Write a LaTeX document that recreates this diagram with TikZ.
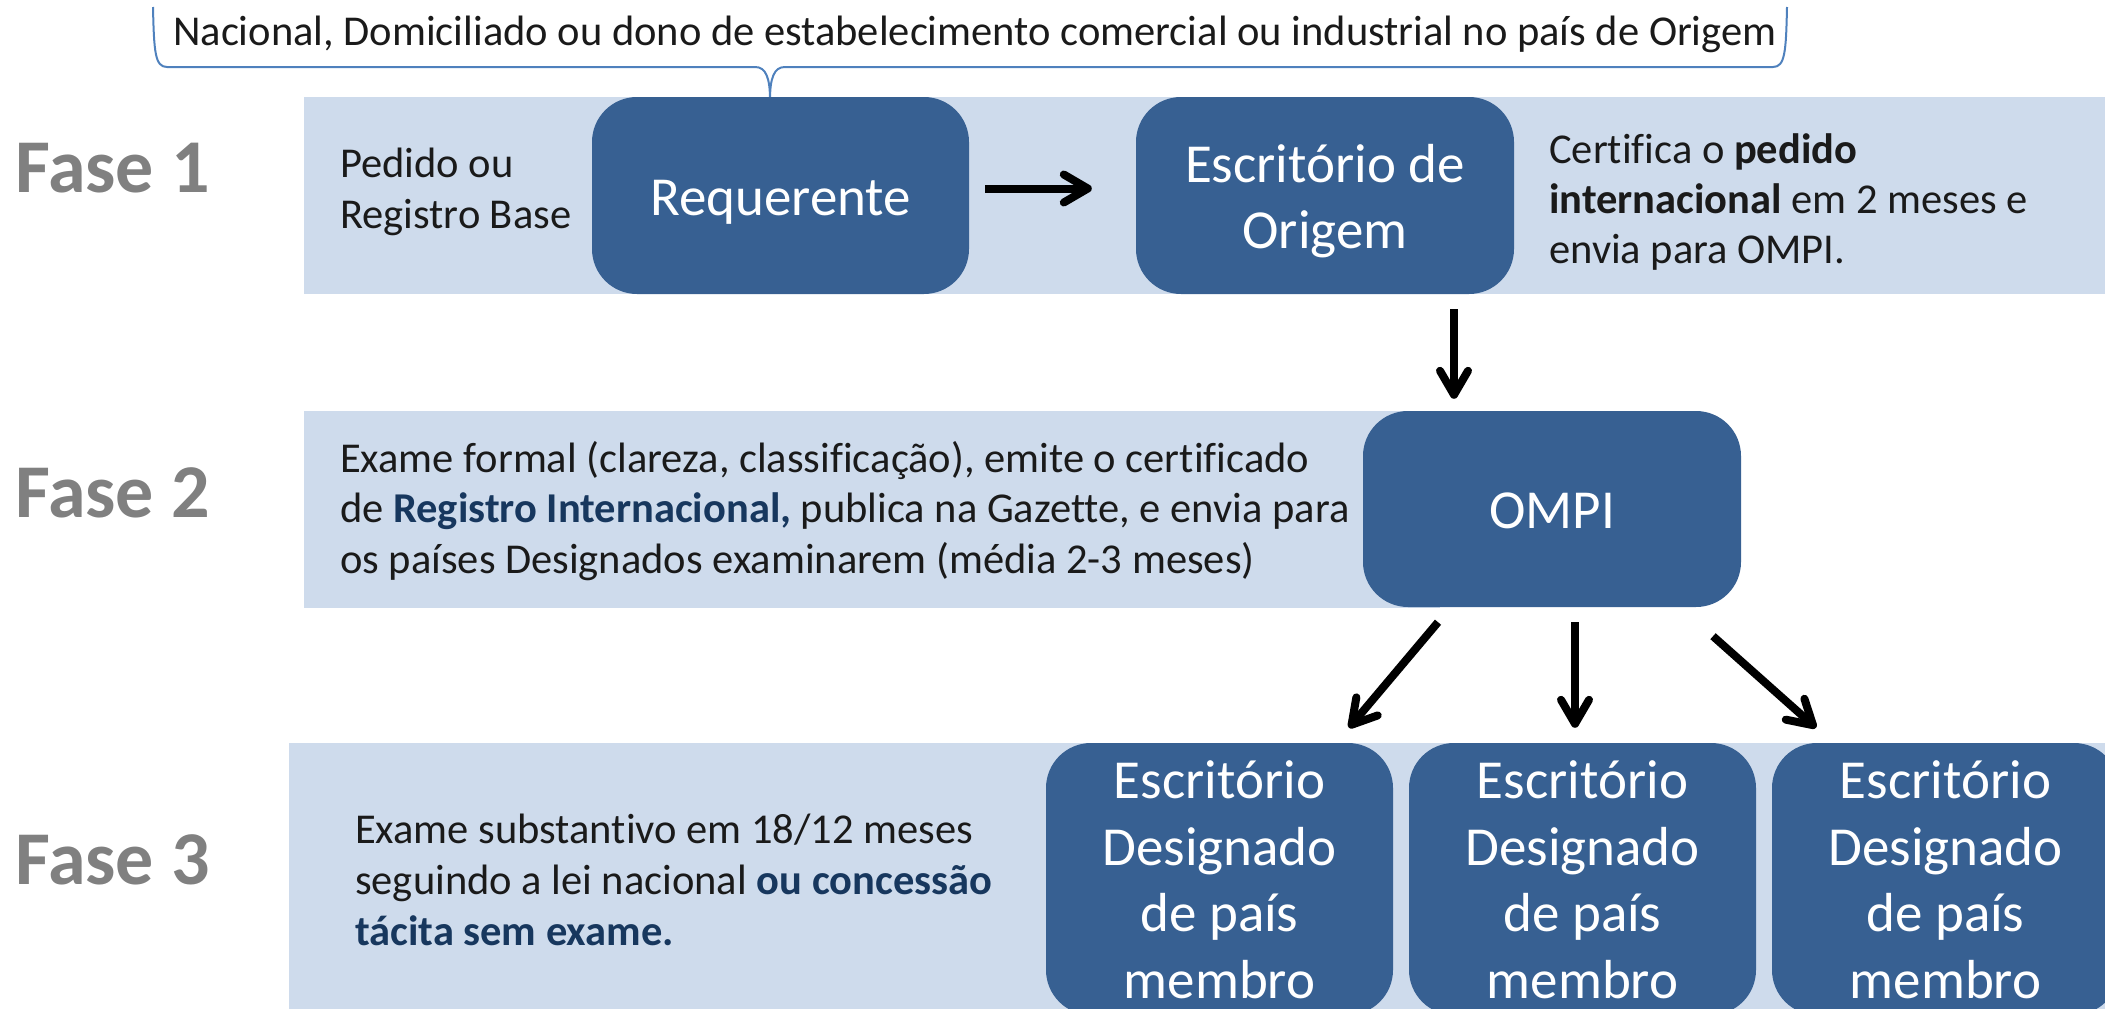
\documentclass[tikz,border=0pt]{standalone}
\usepackage{fontspec}
\setmainfont{Carlito}[Ligatures=NoCommon]
\usetikzlibrary{arrows.meta,calc}
\definecolor{boxblue}{RGB}{55,96,146}
\definecolor{bandblue}{RGB}{206,219,236}
\definecolor{navy}{RGB}{23,55,94}
\definecolor{fasegray}{RGB}{128,128,128}
\definecolor{bracecol}{RGB}{79,129,189}
\definecolor{txtblack}{RGB}{26,26,26}
\begin{document}
\begin{tikzpicture}[x=1pt,y=-1pt,
  band/.style={fill=bandblue},
  bx/.style={fill=boxblue, draw=none, rounded corners=45pt, inner sep=0pt, minimum height=197pt},
  boxtxt/.style={text=white, inner sep=0pt, align=center, font=\fontsize{55}{66.5}\selectfont},
  bodytxt/.style={text=txtblack, inner sep=0pt, align=left, anchor=base west, font=\fontsize{42.5}{50.5}\selectfont},
  fase/.style={text=fasegray, inner sep=0pt, anchor=base west, font=\fontsize{76}{80}\selectfont\bfseries},
  arr/.style={line width=8pt, -{Straight Barb[length=24pt, width=28pt, line cap=round, line join=round]}},
  brace/.style={draw=bracecol, line width=2pt}
]
\useasboundingbox (0,0) rectangle (2105,1009);
\clip (0,0) rectangle (2105,1009);

% bands
\fill[band] (304,97) rectangle (2105,294);
\fill[band] (304,411) rectangle (1440,608);
\fill[band] (289,743) rectangle (2105,1009);

% brace
\draw[brace] (153,7) .. controls (154,52) and (155,67) .. (167,67) -- (755,67)
  .. controls (766,67) and (770,78) .. (770,100) -- (770,128);
\draw[brace] (770,100) .. controls (770,78) and (774,67) .. (785,67) -- (1773,67)
  .. controls (1785,67) and (1786,52) .. (1787,7);
\node[text=txtblack, inner sep=0pt, anchor=base west, font=\fontsize{42.5}{48}\selectfont] (nac) at (173,45)
  {Nacional, Domiciliado ou dono de estabelecimento comercial ou industrial no país de Origem};

% phase labels
\node[fase] (f1) at (15,192) {Fase 1};
\node[fase] (f2) at (15,517) {Fase 2};
\node[fase] (f3) at (15,884) {Fase 3};

% boxes
\node[bx, minimum width=377pt] (req) at (780.5,195.5) {};
\node[bx, minimum width=378pt] (org) at (1325,195.5) {};
\node[bx, minimum width=378pt, minimum height=196pt] (ompi) at (1552,509) {};
\node[bx, minimum width=347pt, minimum height=272pt] (d1) at (1219.5,879) {};
\node[bx, minimum width=347pt, minimum height=272pt] (d2) at (1582.5,879) {};
\node[bx, minimum width=347pt, minimum height=272pt] (d3) at (1945.5,879) {};

% box texts (base = last line)
\node[boxtxt, anchor=base] (reqT) at (780.5,215) {Requerente};
\node[boxtxt, anchor=base, font=\fontsize{55}{66}\selectfont] (orgT) at (1325,248) {Escritório de\\Origem};
\node[boxtxt, anchor=base] (ompiT) at (1552,528) {OMPI};
\node[boxtxt, anchor=base] (d1T) at (1219.5,998) {Escritório\\Designado\\de país\\membro};
\node[boxtxt, anchor=base] (d2T) at (1582.5,998) {Escritório\\Designado\\de país\\membro};
\node[boxtxt, anchor=base] (d3T) at (1945.5,998) {Escritório\\Designado\\de país\\membro};

% band texts (base = last line)
\node[bodytxt, font=\fontsize{42.5}{51}\selectfont] (ped) at (340,228) {Pedido ou\\Registro Base};
\node[bodytxt, font=\fontsize{42.5}{50}\selectfont] (cert) at (1549,263) {Certifica o \textbf{pedido}\\\textbf{internacional} em 2 meses e\\envia para OMPI.};
\node[bodytxt] (exf) at (340,573) {Exame formal (clareza, classificação), emite o certificado\\de \textcolor{navy}{\textbf{Registro Internacional,}} publica na Gazette, e envia para\\os países Designados examinarem (média 2-3 meses)};
\node[bodytxt, font=\fontsize{42.5}{51}\selectfont] (exs) at (355,945) {Exame substantivo em 18/12 meses\\seguindo a lei nacional \textcolor{navy}{\textbf{ou concessão}}\\\textcolor{navy}{\textbf{tácita sem exame.}}};

% arrows
\draw[arr] ($(req.east)+(16,-7)$) -- ($(org.west)+(-44,-7)$);
\draw[arr] ($(org.south)+(129,15)$) -- ($(ompi.north)+(-98,-12)$);
\draw[arr] ($(ompi.south)+(-114,15)$) -- ($(d1.north)+(129.5,-15)$);
\draw[arr] ($(ompi.south)+(23,15)$) -- ($(d2.north)+(-7.5,-15)$);
\draw[arr] ($(ompi.south)+(161,29)$) -- ($(d3.north)+(-129.5,-15)$);
\end{tikzpicture}
\end{document}
